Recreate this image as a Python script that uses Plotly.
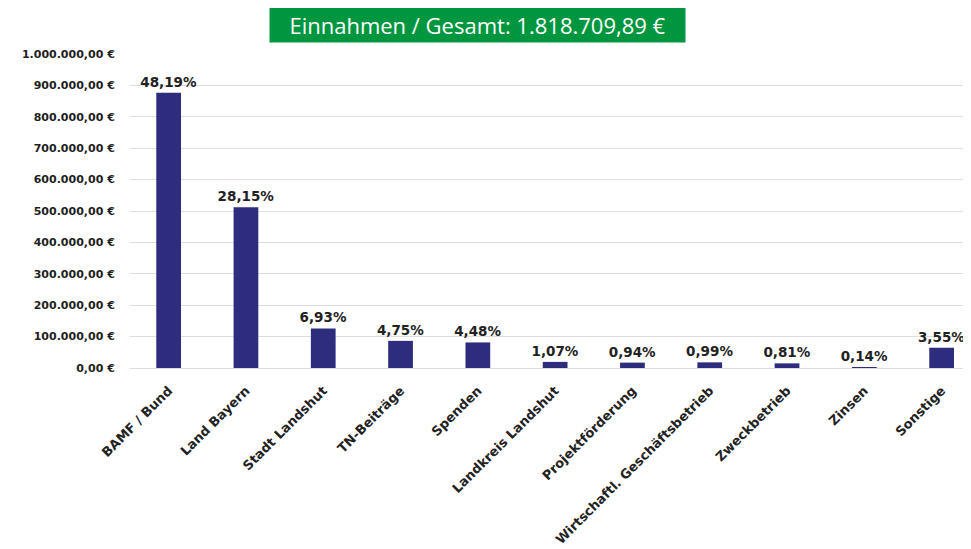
import plotly.graph_objects as go

# Einnahmen nach Quelle (EUR), gelesen aus dem Diagramm
categories = [
    "BAMF / Bund", "Land Bayern", "Stadt Landshut", "TN-Beiträge", "Spenden",
    "Landkreis Landshut", "Projektförderung", "Wirtschaftl. Geschäftsbetrieb",
    "Zweckbetrieb", "Zinsen", "Sonstige",
]
values = [876441, 511967, 126037, 86389, 81478, 19460, 17096, 18005, 14732, 2546, 64564]
shares = ["48,19%", "28,15%", "6,93%", "4,75%", "4,48%", "1,07%",
          "0,94%", "0,99%", "0,81%", "0,14%", "3,55%"]

tick_vals = [i * 100000 for i in range(11)]
tick_text = ["0,00 €", "100.000,00 €", "200.000,00 €", "300.000,00 €", "400.000,00 €",
             "500.000,00 €", "600.000,00 €", "700.000,00 €", "800.000,00 €",
             "900.000,00 €", "1.000.000,00 €"]

title = "Einnahmen / Gesamt: 1.818.709,89 €"

bold_font = "DejaVu Sans, Verdana, sans-serif"

fig = go.Figure()
fig.add_trace(go.Bar(
    x=categories,
    y=values,
    width=0.32,
    marker_color="#2e2d7d",
    marker_line_width=0,
    text=shares,
    textposition="outside",
    constraintext="none",
    cliponaxis=False,
    textfont=dict(family=bold_font, size=13.5, color="#222222"),
    texttemplate="<b>%{text}</b>",
))

# the page body has an 8px default margin, so margins are shifted by 8px
fig.update_layout(
    width=971,
    height=549,
    paper_bgcolor="white",
    plot_bgcolor="white",
    margin=dict(l=122, r=8, t=46, b=189, autoexpand=False),
    showlegend=False,
    xaxis=dict(
        range=[-0.5, 10.38],
        tickangle=-45,
        tickfont=dict(family=bold_font, size=13, color="#222222"),
        showgrid=False,
        showline=False,
        ticks="outside",
        ticklen=9,
        tickcolor="rgba(0,0,0,0)",
        tickprefix="<b>",
        ticksuffix="</b>",
        automargin=False,
    ),
    yaxis=dict(
        range=[0, 1000000],
        tickvals=tick_vals,
        ticktext=[f"<b>{t}</b>" for t in tick_text],
        tickfont=dict(family=bold_font, size=11, color="#1e1e1e"),
        showgrid=True,
        gridcolor="#dedede",
        gridwidth=1,
        zeroline=True,
        zerolinecolor="#dedede",
        zerolinewidth=1,
        ticks="outside",
        ticklen=12,
        tickcolor="rgba(0,0,0,0)",
        automargin=False,
    ),
    annotations=[dict(
        text=title,
        xref="paper", yref="paper",
        x=0.4132, y=1.0924,
        xanchor="center", yanchor="middle",
        showarrow=False,
        bgcolor="#009640",
        borderpad=0,
        width=415, height=34,
        font=dict(family="Open Sans, sans-serif", size=22, color="white"),
    )],
)

fig.write_html("out.html")
